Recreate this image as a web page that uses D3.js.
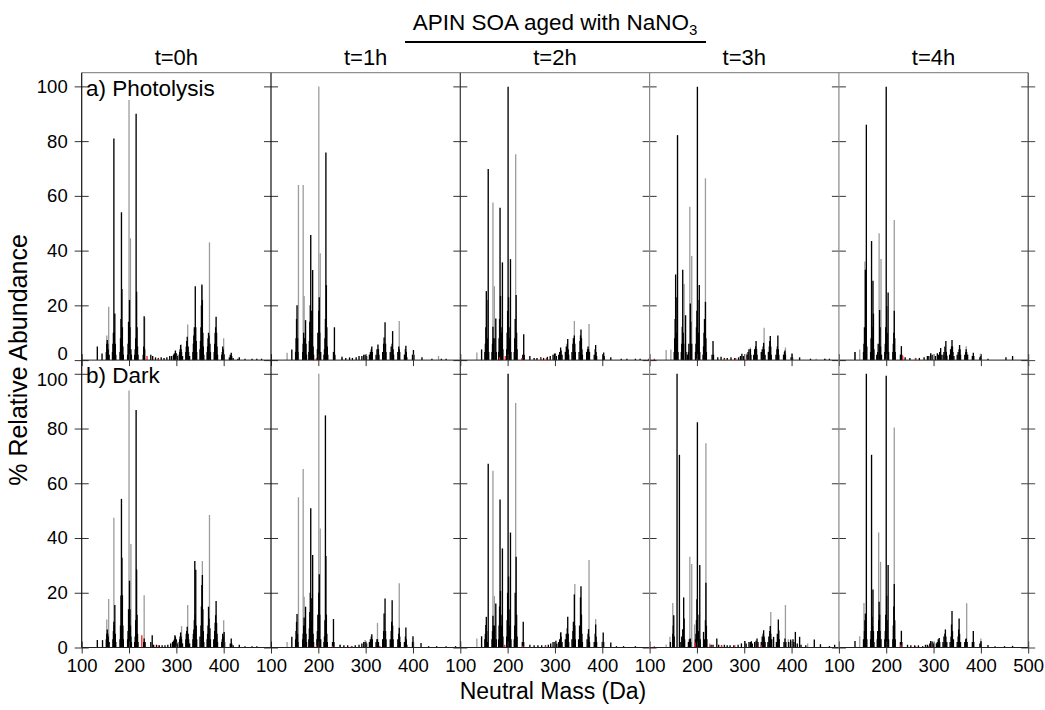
<!DOCTYPE html>
<html><head><meta charset="utf-8">
<script src="https://cdn.jsdelivr.net/npm/d3@7"></script>
<style>body{margin:0;background:#fff}svg{font-family:"Liberation Sans",Arial,sans-serif}</style>
</head><body>
<script>
const timeLabels = ["t=0h","t=1h","t=2h","t=3h","t=4h"];
const rowLabels = ["a) Photolysis","b) Dark"];
const massDomain = [100, 500];
const yDomain = [0, 105];
const xTickVals = [100,200,300,400,500];
const yTickVals = [0,20,40,60,80,100];

// ---- Photolysis panels: [mass, % abundance] ----
const photo0K = [[133,5],[143,2.4],[152,3],[153,6],[154,7.3],[155,6],[156,4],[158,2],[165,3],[166,6],[167,10],[168,81],[169,10],[170,17],[171,6],[172,2],[181,3],[182,8],[183,15],[184,54],[185,26],[186,12],[187,5],[188,2],[197,2],[198,6],[199,14],[201,22],[202,12],[204,4],[205,2],[212,2],[213,4],[214,8],[215,90],[216,25],[217,12],[218,5],[219,2],[230,2],[231,5],[232,16],[233,4],[246,2],[250,1.5],[256,1],[262,0.8],[268,1],[274,0.8],[280,1],[286,1.5],[290,1.5],[294,2],[296,2.5],[298,3.5],[300,2.5],[302,1.5],[306,2],[307,3],[308,4],[309,5.5],[310,4],[311,3],[313,1.5],[320,3],[321,5],[322,7],[323,8.5],[325,5],[326,3],[328,1.5],[335,3],[336,6],[337,9],[338,12],[340,27],[341,12],[342,7],[343,3],[350,4],[351,7],[352,12],[353,20],[354,27.6],[355,22],[356,10],[357,5],[358,2],[365,3],[366,5],[367,8],[368,10],[369,9],[371,6],[372,3],[380,3],[381,6],[382,10],[383,12],[384,15.8],[385,10],[386,5],[387,2],[396,2],[397,3],[398,5],[399,4],[401,2],[412,1],[414,2],[416,2.7],[417,1.5],[420,0.8],[430,0.5],[433,1],[445,0.5],[460,0.5],[470,0.5],[480,0.5]];
const photo0G = [[153,9],[157,19.5],[200,95],[203,44.5],[233,15.5],[310,5.8],[324,13],[354,27],[370,43],[400,8]];
const photo0R = [[238,1.5],[262,0.6],[300,0.5]];

const photo1K = [[144,3.9],[152,3],[153,8],[154,15],[155,20],[156,8],[157,3],[167,3],[168,6],[169,10],[170,8],[172,8],[173,14.6],[174,6],[175,2],[180,3],[181,7],[182,14],[183,20],[184,45.7],[185,18],[186,10],[187,8],[188,32.9],[189,5],[190,2],[198,4],[199,10],[201,18],[202,23],[203,10],[205,3],[212,2],[213,4],[214,8],[215,15],[216,75.8],[217,27.4],[218,12],[219,5],[220,2],[232,3],[234,12],[235,2],[250,1],[258,0.8],[266,1],[272,0.8],[280,1],[286,1.5],[292,1.5],[296,2],[299,2],[302,1.5],[308,2],[310,3],[312,4],[313,5],[314,3],[322,2],[324,4],[326,5.7],[327,4],[328,2],[336,3],[338,6],[339,8.3],[341,13.8],[342,6],[343,3],[352,3],[354,5],[356,6],[357,10.6],[358,4],[359,2],[368,3],[370,5],[371,4],[372,3],[382,2],[384,4],[385,5.2],[386,3],[387,1],[399,2],[401,3.7],[402,2],[419,1],[440,0.5],[460,0.5],[470,0.5]];
const photo1G = [[134,2.7],[158,64],[168,64],[170,23.4],[201,100],[204,39],[250,1.5],[371,14.3],[454,1.5]];
const photo1R = [[196,0.8]];

const photo2K = [[145,3.9],[152,3],[153,6],[154,12],[155,25.2],[156,22],[157,8],[159,69.8],[160,3],[167,3],[168,6],[169,12.2],[170,8],[173,8],[175,15.2],[176,3],[181,3],[182,8],[183,15],[184,55.7],[185,23.4],[186,12],[187,10],[189,35.7],[190,4],[198,4],[199,10],[200,18],[201,99.9],[202,23],[203,12],[204,8],[206,36.9],[207,3],[214,3],[215,8],[216,15],[218,23.8],[219,10],[220,4],[232,2],[234,9.4],[235,2],[247,1.5],[256,0.8],[262,0.8],[270,1],[276,0.8],[284,1.2],[290,1.5],[296,2],[299,2.4],[301,2.4],[303,1.5],[308,2],[310,3],[312,4.6],[313,3.5],[315,2],[322,3],[324,5],[326,6],[327,7.7],[328,4],[329,2],[336,3],[338,6],[339,8],[341,9],[342,6],[343,3],[351,3],[353,7],[354,9],[355,11.2],[356,8],[357,4],[358,2],[367,3],[369,4],[370,5],[371,4],[373,3],[383,2],[385,4],[386,5.5],[387,3],[388,1.5],[401,2],[403,2.8],[404,1.5],[418,1],[440,0.5],[452,0.5],[470,0.5],[480,0.5]];
const photo2G = [[135,2.8],[169,57.6],[172,27],[217,75.2],[341,14.3],[372,13.2]];
const photo2R = [[183,1],[195,1.5],[230,0.8],[270,0.8],[282,0.8],[498,0.5]];

const photo3K = [[152,3],[153,8],[154,15],[155,31.3],[156,23],[157,10],[159,82.2],[160,3],[167,3],[168,6],[169,12.2],[170,33],[171,10],[172,6],[176,16.4],[177,3],[180,2],[182,3],[183,6],[186,20.7],[187,14],[189,6],[197,3],[198,6],[199,12],[200,18],[201,99.9],[202,22],[203,10],[205,27.4],[206,3],[213,2],[214,5],[215,10],[216,15],[218,21.3],[219,8],[220,3],[232,2],[234,7],[235,2],[244,1],[251,1.2],[258,0.8],[264,0.8],[272,1],[280,0.8],[288,1],[292,1.5],[295,2.3],[298,1.5],[306,2],[308,3],[310,4],[313,4],[314,2],[320,2],[322,4],[324,5],[325,7],[326,4],[327,2],[336,3],[338,4],[340,5],[341,6.3],[342,4],[344,2],[351,3],[353,5],[354,7],[355,8.8],[356,5],[357,2],[367,2],[369,4],[370,5],[371,9],[372,4],[373,2],[383,2],[385,3],[386,3.5],[387,2],[399,1],[401,2.4],[402,1],[417,1],[440,0.5],[470,0.5],[480,0.5]];
const photo3G = [[135,3.7],[145,3.9],[173,27.8],[185,56],[189,38],[218,66.4],[305,2.4],[313,4.6],[342,11.8],[387,4.6],[452,0.5],[472,0.5]];
const photo3R = [[110,0.5],[200,0.6],[258,0.5],[282,0.8],[305,0.5]];

const photo4K = [[134,3],[152,3],[153,6],[154,12],[156,33],[157,8],[158,86],[159,5],[167,3],[168,8],[169,43.5],[170,12.2],[171,8],[172,29],[173,17],[174,4],[180,2],[182,3],[183,6],[186,18.3],[187,12],[188,5],[190,2],[197,3],[198,6],[199,12],[200,99.9],[201,19.7],[202,10],[204,24.7],[205,3],[214,3],[215,6],[216,10],[217,18],[218,8],[219,3],[230,2],[232,5.1],[233,2],[240,1],[250,0.8],[262,0.8],[270,0.8],[280,1],[287,1.5],[290,1.5],[294,2.5],[297,2],[304,1.5],[308,2.5],[310,2],[313,3],[315,4.4],[316,2],[320,2],[322,3],[324,5],[326,7],[327,3],[328,1.5],[334,2],[336,4],[338,5],[339,7.3],[340,5],[341,3],[343,1.5],[350,2],[352,3],[354,4],[355,5.5],[356,4],[357,2],[366,2],[368,3],[369,4],[370,3],[372,2],[382,1.5],[384,2.7],[385,1.5],[398,1],[400,1.5],[415,0.5],[453,1],[467,1.5]];
const photo4G = [[134,3],[144,3.9],[155,36],[185,46.3],[189,36.9],[217,51.2],[328,2],[369,5.1],[399,2.4]];
const photo4R = [[200,0.5],[235,1.5],[262,0.8]];

// ---- Dark panels ----
const dark0K = [[133,2.7],[144,2.7],[152,3],[153,5],[154,6.6],[155,5],[156,4],[158,2],[166,3],[167,6],[168,9.4],[169,8],[170,15.5],[171,5],[172,2],[181,3],[182,8],[183,19],[184,54.3],[185,32.8],[186,19.1],[187,8],[188,3],[197,3],[198,6],[199,14],[201,24.4],[202,14],[203,8],[204,4],[205,2],[212,2],[213,4],[214,10],[215,86.8],[216,28.5],[217,12],[218,5],[219,2],[231,2],[232,3.3],[234,2],[246,2],[249,4.5],[252,1],[258,1],[264,0.8],[270,0.8],[276,0.8],[282,1],[288,1.5],[292,2],[294,2.5],[296,3],[297,4.5],[298,4],[300,3],[302,1.5],[306,2],[307,3],[308,4],[309,5.5],[310,4],[311,3],[313,1.5],[320,3],[321,5],[322,6],[323,7.6],[325,5],[326,3],[328,1.5],[335,3],[336,5],[337,6.6],[338,10],[339,31.6],[340,12],[341,28.4],[342,8],[343,3],[350,4],[352,8],[353,15],[354,22.8],[355,26.5],[356,14],[357,6],[358,2],[365,3],[366,5],[367,8],[368,14.9],[369,10.6],[371,7],[372,3],[379,3],[381,6],[382,9],[383,11.8],[384,17],[385,9],[386,5],[387,2],[396,2],[397,3],[398,5],[399,4],[401,5.7],[402,2],[414,1.5],[416,3.3],[417,1.5],[420,0.8],[433,1],[445,0.5],[460,0.5],[470,0.5]];
const dark0G = [[153,10.2],[157,17.7],[168,47.4],[200,93.9],[204,37.8],[232,19.1],[311,7.8],[324,15.5],[355,31.6],[370,48.4],[400,10]];
const dark0R = [[227,4.5],[262,0.8],[300,0.6]];

const dark1K = [[144,3.9],[152,3],[153,6],[154,9.4],[155,12.2],[156,5],[157,2],[167,3],[168,5],[169,8],[170,11],[172,8],[173,14.9],[174,5],[175,2],[180,3],[181,7],[182,13],[183,20],[184,50.9],[185,18],[186,10],[187,8],[188,33.8],[189,5],[190,2],[197,3],[198,6],[199,12],[201,20],[202,26.8],[203,12],[205,3],[212,2],[213,4],[214,10],[215,84.8],[216,33.4],[217,12],[218,5],[219,2],[230,2],[232,10.4],[233,2],[246,1],[254,0.8],[262,0.8],[271,0.5],[278,0.8],[286,1],[292,1.5],[296,2],[299,2],[302,1.5],[308,2],[310,3],[312,4],[313,4.8],[314,3],[322,2],[324,3],[325,3],[327,2],[336,3],[338,6],[339,12.4],[341,17.9],[342,6],[343,3],[352,3],[354,6],[355,9.4],[356,17.3],[357,8],[358,3],[368,3],[370,5],[371,7.2],[372,4],[373,2],[382,2],[384,4],[385,7.3],[386,3],[387,1],[399,2],[400,4.1],[401,2],[417,1.6],[433,0.5],[450,0.5],[470,0.5],[490,0.5]];
const dark1G = [[134,2],[158,54.9],[168,65.2],[170,18.5],[201,100],[204,43.5],[246,1],[299,2.7],[325,9],[371,23.5]];
const dark1R = [[196,0.8],[230,0.6],[270,0.6],[330,0.6]];

const dark2K = [[145,4.1],[152,3],[153,5],[154,8.2],[155,11.2],[156,6],[157,2],[159,67.1],[167,3],[168,6],[169,11.6],[170,8],[172,8],[175,16.1],[176,3],[181,3],[182,8],[183,15],[184,54.1],[185,20.7],[186,12],[187,8],[189,36.2],[190,4],[198,4],[199,10],[200,20],[201,100],[202,25.9],[203,14],[204,8],[206,42],[207,3],[214,3],[215,8],[216,20],[218,33.2],[219,12],[220,4],[231,2],[233,9.4],[234,2],[247,1],[256,0.8],[264,0.8],[272,0.8],[280,0.8],[286,1],[291,1.5],[296,2],[300,2],[302,2.5],[304,1.5],[308,2],[310,3],[312,5.5],[313,4],[315,2],[322,3],[324,5],[326,7],[327,11.2],[328,5],[329,2],[336,3],[338,6],[339,9.4],[341,19.4],[342,8],[343,3],[350,3],[352,8],[354,18.3],[355,22.4],[356,12],[357,5],[358,2],[368,3],[370,5],[371,6.7],[372,4],[373,2],[383,2],[385,5],[386,8.4],[387,4],[388,2],[400,2],[402,5.5],[403,2],[418,1.8],[430,0.5],[445,0.5],[470,0.5]];
const dark2G = [[135,3.3],[169,64.6],[172,18.8],[217,89.3],[313,5.7],[342,23.2],[372,32],[386,10.4]];
const dark2R = [[194,1],[232,0.6],[280,0.6]];

const dark3K = [[144,2],[149,5],[150,8],[151,11.8],[152,4],[158,100],[163,70.4],[166,2],[168,4],[170,6.7],[172,18.3],[173,10.6],[174,3],[182,2],[184,3],[186,3.3],[187,2],[197,3],[198,5],[199,10],[200,17.6],[201,82.3],[202,12],[203,6],[206,30.1],[207,3],[214,5.7],[216,3],[218,10],[219,23.7],[220,8],[221,3],[230,1],[234,1],[242,3.3],[246,1],[252,0.8],[258,1],[264,0.8],[270,0.8],[278,0.8],[287,1],[294,1.5],[301,2.4],[304,1.5],[310,2],[313,2],[315,2.3],[317,1.5],[322,2],[325,2.5],[327,3.3],[329,2],[336,2],[338,4],[340,5],[341,6.3],[342,4],[344,2],[350,2],[352,4],[354,6],[355,7.9],[356,5],[358,3],[362,3.9],[368,2],[370,5],[372,10.2],[373,6.3],[374,3],[384,2],[386,3.3],[388,2],[394,2],[398,2.9],[403,3],[405,2],[408,5.7],[412,1.5],[417,3.9],[420,1],[430,0.8],[448,2.9],[461,1.2],[480,0.5],[491,1]];
const dark3G = [[135,1],[143,3.9],[149,16.3],[185,33.2],[189,30.5],[195,8.4],[219,74.6],[227,1.5],[301,2.4],[343,3],[356,13],[387,15.5],[393,3],[434,1.5]];
const dark3R = [[110,0.5],[196,1.8],[228,0.8],[252,0.6],[280,0.8],[336,0.8]];

const dark4K = [[134,2.4],[152,3],[154,6],[155,10],[156,12.4],[157,6],[158,100],[159,3],[167,3],[168,6],[169,70.4],[170,11.2],[171,8],[172,21.2],[173,6],[174,2],[181,3],[182,6],[184,10],[185,16.7],[186,12],[187,6],[189,3],[197,3],[198,6],[199,12],[200,99.3],[201,18.9],[202,10],[204,30.1],[205,3],[214,3],[215,8],[216,15],[217,23.2],[218,10],[219,3],[230,2],[232,6.1],[233,2],[245,1],[252,0.8],[260,0.8],[268,0.8],[277,0.5],[283,1],[287,1],[292,1.5],[294,2.4],[297,2.2],[300,1.5],[306,1.5],[308,2],[310,3],[312,3.5],[313,2],[320,2],[322,4],[324,5],[325,6.6],[326,4],[328,2],[335,2],[337,4],[338,8.4],[339,13.3],[340,6],[342,3],[350,2],[352,4],[353,6.6],[354,10.6],[355,5],[357,2],[366,2],[368,3],[369,3.3],[371,2],[382,2],[384,6],[385,2],[398,1.5],[400,2.3],[401,1],[415,0.9],[430,0.5],[450,0.5],[467,0.6]];
const dark4G = [[144,4.1],[153,16.3],[184,42],[188,31.3],[217,80.4],[370,16.2],[400,3.3]];
const dark4R = [[231,1],[262,0.6],[290,0.6]];

const panelData = [
  [[photo0K,photo0G,photo0R],[photo1K,photo1G,photo1R],[photo2K,photo2G,photo2R],[photo3K,photo3G,photo3R],[photo4K,photo4G,photo4R]],
  [[dark0K,dark0G,dark0R],[dark1K,dark1G,dark1R],[dark2K,dark2G,dark2R],[dark3K,dark3G,dark3R],[dark4K,dark4G,dark4R]]
];

// ---- layout ----
const W = 1045, H = 710;
const leftX = 81.7, panelW = 189.3, topY = 72.7, rowH = 287.4;
const colors = {K:"#000000", G:"#9c9c9c", R:"#ff1a1a"};
const borderCol = ["#111","#111","#333","#888","#888","#444"];
const FONT = "Liberation Sans, Arial, sans-serif";

const svg = d3.select("body").append("svg").attr("width", W).attr("height", H);

for (let r = 0; r < 2; r++) {
  for (let c = 0; c < 5; c++) {
    const x0 = leftX + c * panelW, y0 = topY + r * rowH;
    const x = d3.scaleLinear().domain(massDomain).range([x0, x0 + panelW]);
    const y = d3.scaleLinear().domain(yDomain).range([y0 + rowH, y0]);
    const g = svg.append("g");
    const [K, G, R] = panelData[r][c];
    const order = [[G, colors.G, 1.3], [K, colors.K, 1.35], [R, colors.R, 1.3]];
    order.forEach(([arr, col, sw]) => {
      g.append("g").selectAll("line").data(arr).join("line")
        .attr("x1", d => x(d[0])).attr("x2", d => x(d[0]))
        .attr("y1", y(0)).attr("y2", d => y(d[1]))
        .attr("stroke", col).attr("stroke-width", sw);
    });

    // x axis at bottom of row
    const xt = c === 4 ? xTickVals : xTickVals.slice(0, 4);
    const xa = svg.append("g").attr("transform", `translate(0,${y(0)})`)
      .call(d3.axisBottom(x).tickValues(xt).tickSize(6).tickPadding(5));
    xa.select(".domain").remove();
    xa.selectAll("line").attr("y1", -6).attr("stroke", "#333");
    xa.selectAll("text").attr("font-size", 18.5).attr("fill", "#000").attr("font-family", FONT);
    if (r === 0) xa.selectAll("text").remove();

    // y axis at left of panel (ticks crossing)
    const ya = svg.append("g").attr("transform", `translate(${x0},0)`)
      .call(d3.axisLeft(y).tickValues(yTickVals).tickSize(7).tickPadding(7));
    ya.select(".domain").remove();
    ya.selectAll("line").attr("x1", 7).attr("stroke", "#333");
    ya.selectAll("text").attr("font-size", 18.5).attr("fill", "#000").attr("font-family", FONT);
    if (c !== 0) ya.selectAll("text").remove();
    else {
      // nudge the two labels that meet at the row boundary apart
      ya.selectAll(".tick").filter(d => (r === 0 && d === 0)).select("text").attr("dy", "-0.05em");
      ya.selectAll(".tick").filter(d => (r === 1 && d === 100)).select("text").attr("dy", "0.62em");
    }
    if (c === 4) {
      const yr = svg.append("g").attr("transform", `translate(${x0 + panelW},0)`)
        .call(d3.axisLeft(y).tickValues(yTickVals).tickSize(7));
      yr.select(".domain").remove();
      yr.selectAll("text").remove();
      yr.selectAll("line").attr("x1", 7).attr("stroke", "#444");
    }
  }
}

// frame lines
const bottomY = topY + 2 * rowH;
svg.append("line").attr("x1", leftX).attr("x2", leftX + 5 * panelW).attr("y1", topY).attr("y2", topY).attr("stroke", "#777");
svg.append("line").attr("x1", leftX).attr("x2", leftX + 5 * panelW).attr("y1", topY + rowH).attr("y2", topY + rowH).attr("stroke", "#222");
svg.append("line").attr("x1", leftX).attr("x2", leftX + 5 * panelW).attr("y1", bottomY).attr("y2", bottomY).attr("stroke", "#222");
for (let c = 0; c <= 5; c++) {
  svg.append("line").attr("x1", leftX + c * panelW).attr("x2", leftX + c * panelW)
    .attr("y1", topY).attr("y2", bottomY).attr("stroke", borderCol[c]).attr("stroke-width", 1.2);
}

// column titles
timeLabels.forEach((t, c) => {
  svg.append("text").attr("x", leftX + (c + 0.5) * panelW).attr("y", 65)
    .attr("text-anchor", "middle").attr("font-size", 22).text(t);
});
// row labels
rowLabels.forEach((t, r) => {
  svg.append("text").attr("x", 86).attr("y", topY + r * rowH + 23)
    .attr("font-size", 22.5).text(t);
});
// super title with underline
const st = svg.append("text").attr("x", 555).attr("y", 30).attr("text-anchor", "middle").attr("font-size", 22.5);
st.append("tspan").text("APIN SOA aged with NaNO");
st.append("tspan").attr("font-size", 15).attr("dy", 5).text("3");
svg.append("line").attr("x1", 405).attr("x2", 706).attr("y1", 42).attr("y2", 42).attr("stroke", "#000").attr("stroke-width", 2);

// axis titles
svg.append("text").attr("x", 553).attr("y", 699).attr("text-anchor", "middle").attr("font-size", 23).text("Neutral Mass (Da)");
svg.append("text").attr("transform", "translate(27,360) rotate(-90)").attr("text-anchor", "middle")
  .attr("font-size", 25).text("% Relative Abundance");
</script>
</body></html>
